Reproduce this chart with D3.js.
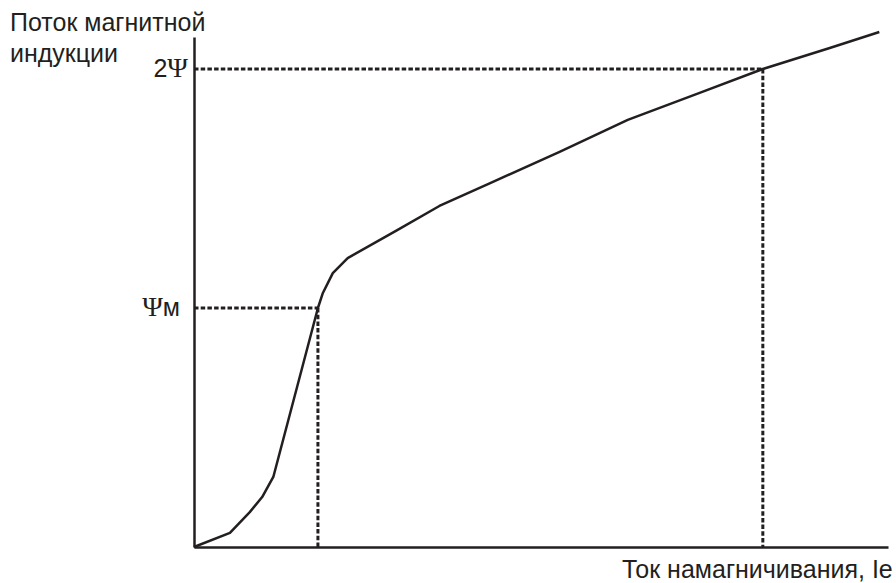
<!DOCTYPE html>
<html>
<head>
<meta charset="utf-8">
<script src="https://cdn.jsdelivr.net/npm/d3@7"></script>
<style>
  body { margin: 0; background: #fff; }
  svg { display: block; }
  text { font-family: "Liberation Sans", Arial, sans-serif; fill: #231f20; }
</style>
</head>
<body>
<script>
// magnetisation curve, current in units of I(Psi_m), flux in units of Psi_m
const current = [0, 0.29, 0.45, 0.55, 0.64, 1.0, 1.04, 1.12, 1.24, 1.64, 1.98, 2.39, 2.95, 3.50, 4.08, 4.59, 5.13, 5.53];
const flux    = [0, 0.059, 0.146, 0.209, 0.293, 1.0, 1.063, 1.146, 1.209, 1.326, 1.427, 1.523, 1.653, 1.787, 1.900, 2.0, 2.088, 2.155];

// marked levels: flux and the current where the curve reaches it
const marks = [
  { label: "Ψм", flux: 1.0, current: 1.0 },
  { label: "2Ψ", flux: 2.0, current: 4.59 }
];

const yTitle = ["Поток магнитной", "индукции"];
const xTitle = "Ток намагничивания, Ie";

const w = 896;
const h = 583;
const ink = "#231f20";

const x = d3.scaleLinear()
  .domain([0, 5.6])
  .range([194, 888]);

const y = d3.scaleLinear()
  .domain([0, 2.134])
  .range([547, 37]);

const svg = d3.select("body")
  .append("svg")
  .attr("width", w)
  .attr("height", h);

// dashed guides
const guides = svg.append("g")
  .attr("stroke", ink)
  .attr("stroke-width", 3)
  .attr("stroke-dasharray", "4.5,2.2")
  .attr("fill", "none");

guides.selectAll("line.h")
  .data(marks).enter()
  .append("line")
  .attr("class", "h")
  .attr("x1", x(0))
  .attr("x2", d => x(d.current))
  .attr("y1", d => y(d.flux))
  .attr("y2", d => y(d.flux));

guides.selectAll("line.v")
  .data(marks).enter()
  .append("line")
  .attr("class", "v")
  .attr("x1", d => x(d.current))
  .attr("x2", d => x(d.current))
  .attr("y1", d => y(d.flux))
  .attr("y2", y(0));

// axes (plain lines, no ticks)
svg.append("g")
  .attr("transform", `translate(0,${y(0)})`)
  .call(d3.axisBottom(x).tickValues([]).tickSizeOuter(0))
  .select(".domain")
  .attr("stroke", ink)
  .attr("stroke-width", 2.5);

svg.append("g")
  .attr("transform", `translate(${x(0)},0)`)
  .call(d3.axisLeft(y).tickValues([]).tickSizeOuter(0))
  .select(".domain")
  .attr("stroke", ink)
  .attr("stroke-width", 2.5);

// curve
const line = d3.line()
  .x((d, i) => x(current[i]))
  .y(d => y(d));

svg.append("path")
  .datum(flux)
  .attr("d", line)
  .attr("fill", "none")
  .attr("stroke", ink)
  .attr("stroke-width", 2.5)
  .attr("stroke-linejoin", "round");

// level labels
const lab = svg.selectAll("text.mark")
  .data(marks).enter()
  .append("text")
  .attr("class", "mark")
  .attr("text-anchor", "end")
  .attr("font-size", 25)
  .attr("x", d => x(0) - (d.flux === 1 ? 14 : 6))
  .attr("y", d => y(d.flux) + 8);

lab.each(function(d) {
  const t = d3.select(this);
  if (d.label === "2Ψ") {
    t.append("tspan").text("2");
    t.append("tspan").attr("font-family", "Liberation Serif, serif").attr("font-size", 28).text("Ψ");
  } else {
    t.append("tspan").attr("font-family", "Liberation Serif, serif").attr("font-size", 28).text("Ψ");
    t.append("tspan").text("м");
  }
});

// axis titles
svg.append("text")
  .attr("font-size", 25)
  .selectAll("tspan")
  .data(yTitle).enter()
  .append("tspan")
  .attr("x", 10)
  .attr("y", (d, i) => 31 + i * 31)
  .text(d => d);

svg.append("text")
  .attr("font-size", 25)
  .attr("x", 622)
  .attr("y", 578)
  .text(xTitle);
</script>
</body>
</html>
